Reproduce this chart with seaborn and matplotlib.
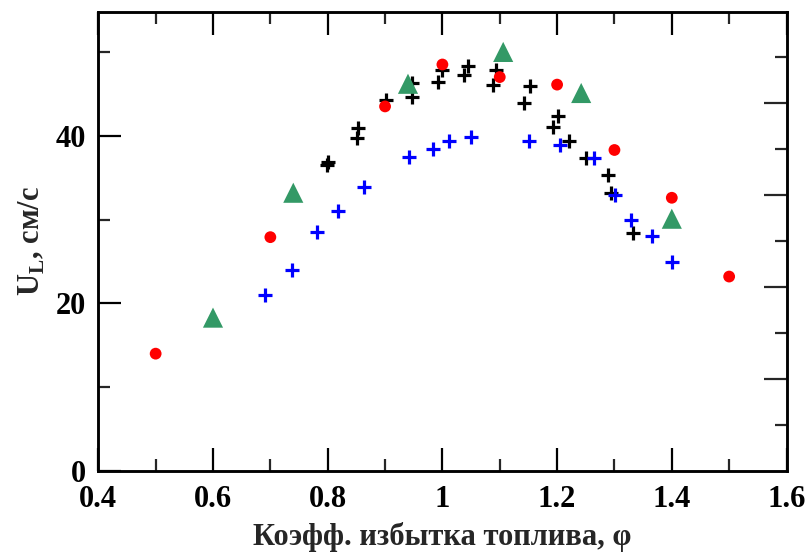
import matplotlib
matplotlib.use("Agg")
import matplotlib.pyplot as plt
from matplotlib.ticker import FixedLocator, NullFormatter
import seaborn as sns
import pandas as pd

# --- data ---
red_x = [0.5, 0.7, 0.9, 1.0, 1.1, 1.2, 1.3, 1.4, 1.5]
red_y = [14.0, 27.9, 43.5, 48.5, 47.0, 46.1, 38.3, 32.6, 23.2]

green_x = [0.6, 0.74, 0.94, 1.106, 1.242, 1.4]
green_y = [18.3, 33.2, 46.2, 50.0, 45.1, 30.1]

blue_x = [0.691, 0.737, 0.782, 0.818, 0.864, 0.941, 0.983, 1.012, 1.05,
          1.151, 1.205, 1.265, 1.301, 1.328, 1.365, 1.4]
blue_y = [21.0, 24.0, 28.5, 31.0, 33.9, 37.5, 38.4, 39.4, 39.9,
          39.4, 38.9, 37.4, 32.9, 30.0, 28.0, 24.9]

black_x = [0.798, 0.801, 0.851, 0.852, 0.902, 0.947, 0.947, 0.993, 0.999,
           1.038, 1.044, 1.089, 1.093, 1.143, 1.152, 1.193, 1.202, 1.22,
           1.251, 1.288, 1.294, 1.332]
black_y = [36.5, 36.9, 39.7, 40.9, 44.3, 44.6, 46.3, 46.4, 47.9,
           47.2, 48.3, 46.0, 47.8, 43.9, 45.9, 41.0, 42.3, 39.4,
           37.4, 35.3, 33.2, 28.4]

x_ticks = [0.4, 0.6, 0.8, 1.0, 1.2, 1.4, 1.6]
x_minor_ticks = [0.5, 0.7, 0.9, 1.1, 1.3, 1.5]
x_tick_labels = ["0.4", "0.6", "0.8", "1", "1.2", "1.4", "1.6"]
y_ticks = [0, 20, 40]
y_minor_ticks = [10, 30, 50]
y_tick_labels = ["0", "20", "40"]

xlabel = "Коэфф. избытка топлива, φ"
ylabel = r"$\mathbf{U}_\mathbf{L}$, см/с"

sns.set_theme(style="ticks")
plt.rcParams["font.family"] = ["Liberation Serif", "DejaVu Serif"]
plt.rcParams["font.weight"] = "bold"
plt.rcParams["mathtext.fontset"] = "custom"
plt.rcParams["mathtext.bf"] = "Liberation Serif:bold"
plt.rcParams["mathtext.rm"] = "Liberation Serif:bold"

fig = plt.figure(figsize=(8.10, 5.56), dpi=100)
ax = fig.add_axes([98.3 / 810, 85 / 556, (786.5 - 98.3) / 810, (471 - 11.7) / 556])

df_black = pd.DataFrame({"x": black_x, "y": black_y})
df_blue = pd.DataFrame({"x": blue_x, "y": blue_y})
df_red = pd.DataFrame({"x": red_x, "y": red_y})
df_green = pd.DataFrame({"x": green_x, "y": green_y})

sns.scatterplot(data=df_black, x="x", y="y", ax=ax, marker="+", s=95,
                color="black", linewidth=2.3, zorder=3, legend=False)
sns.scatterplot(data=df_blue, x="x", y="y", ax=ax, marker="+", s=105,
                color="#0000FF", linewidth=2.3, zorder=3, legend=False)
sns.scatterplot(data=df_red, x="x", y="y", ax=ax, marker="o", s=72,
                color="#FF0000", edgecolor="none", zorder=4, legend=False)
sns.scatterplot(data=df_green, x="x", y="y", ax=ax, marker="^", s=210,
                color="#339966", edgecolor="none", zorder=5, legend=False)

ax.set_xlim(0.4, 1.6)
ax.set_ylim(0, 54.8)

ax.xaxis.set_major_locator(FixedLocator(x_ticks))
ax.set_xticklabels(x_tick_labels)
ax.xaxis.set_minor_locator(FixedLocator(x_minor_ticks))
ax.yaxis.set_major_locator(FixedLocator(y_ticks))
ax.set_yticklabels(y_tick_labels)
ax.yaxis.set_minor_locator(FixedLocator(y_minor_ticks))

ax.tick_params(axis="both", which="major", direction="in", length=16.5, width=1.6,
               labelsize=22, colors="black")
ax.tick_params(axis="x", which="major", pad=10)
ax.tick_params(axis="y", which="major", pad=9)
ax.tick_params(axis="both", which="minor", direction="in", length=8.6, width=1.6)
ax.tick_params(axis="x", which="both", top=True, bottom=True)
ax.tick_params(axis="y", which="both", left=True, right=False)

for lab in ax.get_xticklabels() + ax.get_yticklabels():
    lab.set_fontweight("bold")

for sp in ax.spines.values():
    sp.set_visible(True)
    sp.set_linewidth(1.8)
    sp.set_color("black")

ax.set_xlabel(xlabel, fontsize=22, fontweight="bold", labelpad=6)
ax.set_ylabel(ylabel, fontsize=22, fontweight="bold", labelpad=6)

# right-side axis with its own tick spacing (no labels)
ax2 = ax.twinx()
ax2.set_ylim(0, (471 - 11.7) / 46.0)
ax2.yaxis.set_major_locator(FixedLocator([2, 4, 6, 8]))
ax2.yaxis.set_minor_locator(FixedLocator([1, 3, 5, 7, 9]))
ax2.yaxis.set_major_formatter(NullFormatter())
ax2.tick_params(axis="y", which="major", direction="in", length=16.5, width=1.6, right=True)
ax2.tick_params(axis="y", which="minor", direction="in", length=8.6, width=1.6, right=True)
for sp in ax2.spines.values():
    sp.set_linewidth(1.8)
    sp.set_color("black")
ax2.grid(False)
ax.grid(False)

fig.savefig("out.png", dpi=100, facecolor="white")
